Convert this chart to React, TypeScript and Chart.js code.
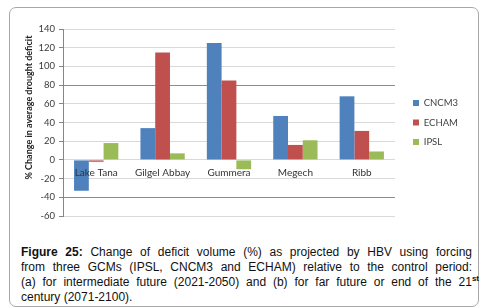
import React, { useEffect, useRef } from 'react';
import { Chart, registerables } from 'chart.js';

Chart.register(...registerables);

const categories = ['Lake Tana', 'Gilgel Abbay', 'Gummera', 'Megech', 'Ribb'];
const seriesNames = ['CNCM3', 'ECHAM', 'IPSL'];
const cncm3 = [-33, 34, 125, 47, 68];
const echam = [-2, 115, 85, 16, 31];
const ipsl = [18, 7, -10, 21, 9];
const seriesColors = ['#4F81BD', '#C0504D', '#9BBB59'];
const yMin = -60;
const yMax = 140;
const yStep = 20;
const darkGridValues = [80, -40];
const yAxisTitle = '% Change in average drought deficit';

const yTitlePlugin = {
  id: 'yTitle',
  afterDraw(chart: any) {
    const { ctx, chartArea } = chart;
    ctx.save();
    ctx.translate(29, (chartArea.top + chartArea.bottom) / 2 - 15);
    ctx.rotate(-Math.PI / 2);
    ctx.font = 'bold 9px Lato';
    ctx.fillStyle = '#222222';
    ctx.textAlign = 'center';
    ctx.textBaseline = 'middle';
    ctx.fillText(yAxisTitle, 0, 0);
    ctx.restore();
  },
};

export default function App() {
  const ref = useRef<HTMLCanvasElement>(null);

  useEffect(() => {
    const values = [cncm3, echam, ipsl];
    const chart = new Chart(ref.current!, {
      type: 'bar',
      data: {
        labels: categories,
        datasets: seriesNames.map((name, i) => ({
          label: name,
          data: values[i],
          backgroundColor: seriesColors[i],
          borderWidth: 0,
          yAxisID: 'y',
        })),
      },
      options: {
        animation: false,
        responsive: false,
        layout: { padding: { top: 29, bottom: 12, left: 0, right: 19 } },
        datasets: { bar: { categoryPercentage: 0.667, barPercentage: 1 } },
        plugins: {
          legend: {
            position: 'right',
            labels: {
              boxWidth: 6,
              boxHeight: 6,
              padding: 10,
              font: { family: 'Lato', size: 9.5 },
              color: '#404040',
            },
          },
          tooltip: { enabled: false },
        },
        scales: {
          x: {
            position: { y: 0 } as any,
            grid: { display: false, drawTicks: false },
            border: { display: false },
            ticks: { z: 1, padding: 7, font: { family: 'Lato', size: 10 }, color: '#333333' },
          },
          y: {
            min: yMin,
            max: yMax,
            ticks: { stepSize: yStep, padding: 4, font: { family: 'Lato', size: 9.5 }, color: '#3a3a3a' },
            grid: {
              color: (c: any) =>
                c.tick && darkGridValues.includes(c.tick.value) ? '#8c8c8c' : '#d9d9d9',
              tickLength: 4,
              tickColor: '#868686',
            },
            border: { color: '#868686' },
            afterFit: (s: any) => {
              s.width = 63;
            },
          },
          y2: {
            position: 'right',
            display: true,
            grid: { display: false, drawTicks: false },
            ticks: { display: false },
            border: { display: false },
            afterFit: (s: any) => {
              s.width = 8;
            },
          },
        },
      },
      plugins: [yTitlePlugin],
    } as any);
    return () => chart.destroy();
  }, []);

  const lineStyle: React.CSSProperties = { textAlign: 'justify', textAlignLast: 'justify' };

  return (
    <div style={{ position: 'absolute', left: 0, top: 0, width: 487, height: 308, background: '#fff', overflow: 'hidden' }}>
      <div
        style={{
          position: 'absolute',
          left: 9,
          top: 7,
          width: 470,
          height: 300,
          boxSizing: 'border-box',
          border: '1.5px solid #a8a8a8',
          borderRadius: 7,
        }}
      />
      <canvas ref={ref} width={487} height={228} style={{ position: 'absolute', left: 0, top: 0 }} />
      <div
        style={{
          position: 'absolute',
          left: 21,
          top: 245,
          width: 451,
          fontFamily: '"Liberation Sans", Arial, sans-serif',
          fontSize: 12,
          lineHeight: '15px',
          color: '#111',
        }}
      >
        <div style={lineStyle}>
          <b>Figure 25:</b> Change of deficit volume (%) as projected by HBV using forcing
        </div>
        <div style={lineStyle}>
          from three GCMs (IPSL, CNCM3 and ECHAM) relative to the control period:
        </div>
        <div style={{ ...lineStyle, width: 458 }}>
          (a) for intermediate future (2021-2050) and (b) for far future or end of the 21
          <sup style={{ fontSize: 8, lineHeight: 0, fontWeight: 'bold' }}>st</sup>
        </div>
        <div>century (2071-2100).</div>
      </div>
    </div>
  );
}
